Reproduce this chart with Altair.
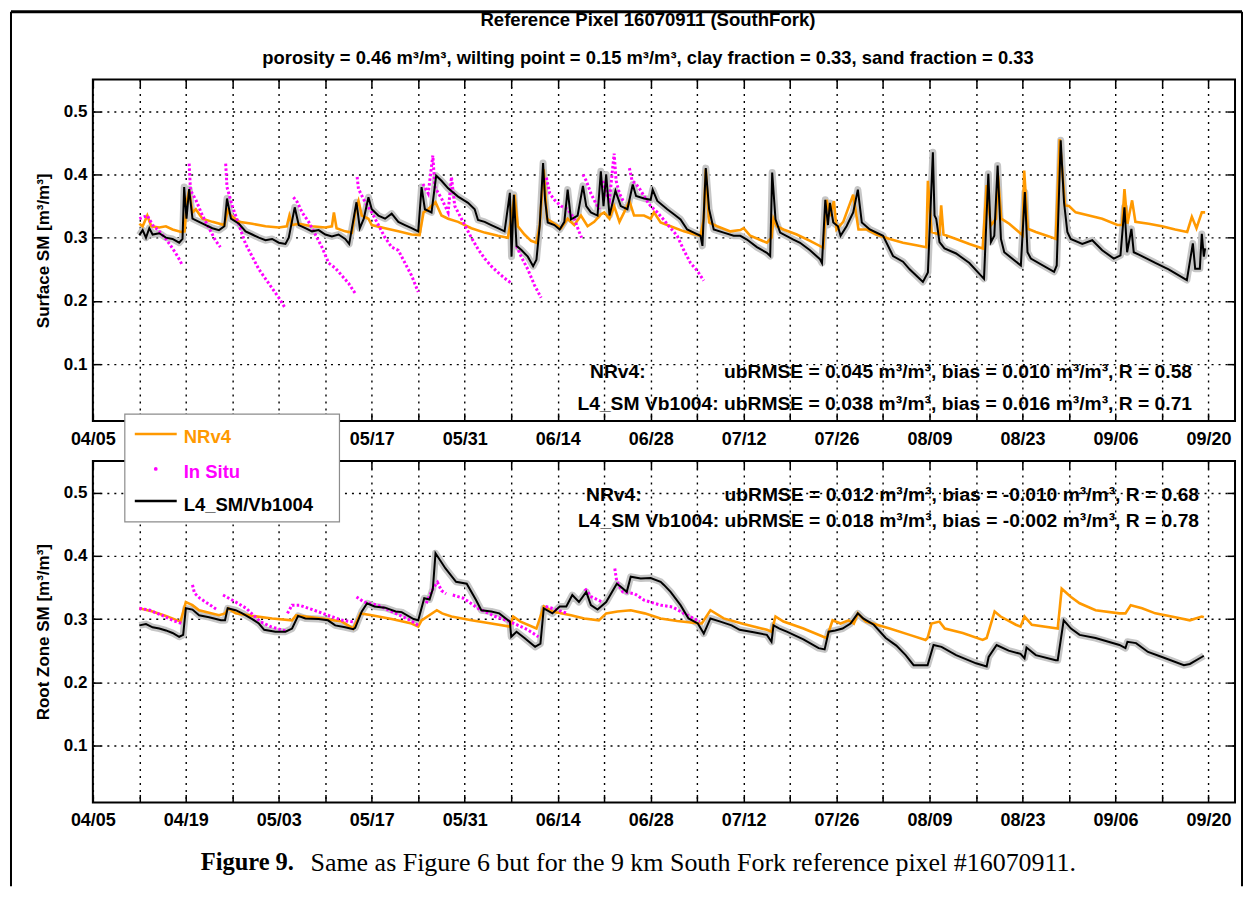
import altair as alt
import pandas as pd

# ---------------- data: day offset from 2015-04-05, soil moisture [m3/m3] ----------------
surf_nr = [[7,0.322],[7.5,0.318],[8.2,0.335],[8.8,0.318],[10,0.316],[11,0.318],[12,0.313],[13.3,0.309],[13.8,0.31],[14.2,0.36],[14.5,0.375],[15,0.34],[15.5,0.345],[16.5,0.33],[18,0.325],[19.8,0.32],[20.3,0.343],[20.8,0.335],[22,0.325],[24,0.322],[26,0.318],[28,0.316],[29.2,0.318],[29.6,0.335],[30,0.32],[31,0.322],[33,0.318],[35,0.316],[36,0.318],[36.3,0.34],[36.7,0.315],[38,0.31],[39,0.308],[39.6,0.345],[40,0.358],[40.5,0.335],[41.5,0.33],[42,0.32],[44,0.315],[46,0.31],[48,0.305],[49.2,0.304],[49.8,0.34],[50.5,0.345],[51.6,0.356],[52.5,0.335],[53.5,0.33],[55,0.325],[57,0.315],[59,0.308],[61,0.303],[62.5,0.3],[63,0.33],[63.5,0.368],[64,0.318],[65,0.305],[66,0.295],[66.8,0.292],[67.3,0.32],[67.9,0.408],[68.4,0.33],[69.5,0.322],[70.5,0.315],[71.5,0.33],[72.5,0.32],[73.5,0.335],[74.5,0.318],[75.5,0.325],[76.5,0.337],[77,0.34],[77.8,0.33],[78.5,0.35],[79.3,0.325],[80,0.34],[80.8,0.358],[81.5,0.335],[83,0.335],[84,0.33],[84.5,0.34],[85.5,0.324],[87,0.318],[89,0.31],[91.5,0.303],[92,0.33],[92.3,0.408],[92.8,0.324],[94,0.318],[96,0.31],[97.5,0.312],[98,0.315],[99,0.303],[101.5,0.292],[102.2,0.3],[102.5,0.33],[103,0.318],[104,0.313],[106,0.305],[108,0.295],[110,0.284],[110.5,0.36],[111,0.334],[111.6,0.358],[112,0.313],[113,0.325],[114.5,0.368],[115.3,0.313],[116.5,0.313],[118,0.305],[120,0.298],[122,0.292],[124,0.288],[125.5,0.285],[125.75,0.39],[126.3,0.309],[127.5,0.305],[127.75,0.351],[128.1,0.305],[130,0.298],[132,0.29],[134,0.283],[134.6,0.383],[135.2,0.319],[136,0.33],[136.3,0.398],[136.8,0.33],[138,0.322],[140,0.304],[140.25,0.406],[140.8,0.314],[142,0.309],[144,0.302],[145,0.298],[145.6,0.456],[146.4,0.351],[147,0.35],[148,0.34],[150,0.335],[152,0.33],[154.3,0.32],[155,0.32],[155.35,0.377],[155.8,0.322],[156.5,0.359],[157,0.325],[159,0.322],[161,0.318],[163,0.313],[164.8,0.309],[165.5,0.333],[166.2,0.315],[167,0.34],[167.5,0.34]]

surf_l4 = [[7,0.304],[7.5,0.312],[8,0.3],[8.5,0.315],[9,0.305],[10,0.307],[11,0.3],[12,0.298],[13,0.292],[13.5,0.298],[13.75,0.38],[14.1,0.33],[14.5,0.377],[15,0.33],[16,0.325],[17,0.32],[18,0.315],[19,0.312],[19.8,0.318],[20.2,0.362],[20.8,0.33],[22,0.322],[23,0.31],[24,0.305],[25,0.3],[26,0.296],[27,0.298],[28,0.292],[29,0.29],[29.5,0.3],[30.4,0.348],[31,0.32],[32,0.315],[33,0.31],[34,0.312],[35,0.305],[36,0.302],[37,0.305],[38,0.298],[38.6,0.29],[39.7,0.356],[40.2,0.315],[40.8,0.33],[41.5,0.364],[42,0.345],[43,0.335],[44,0.33],[45,0.338],[46,0.325],[47,0.32],[48,0.315],[49,0.31],[49.5,0.38],[50,0.345],[51,0.34],[51.7,0.398],[52.5,0.39],[53.5,0.378],[55,0.365],[56.5,0.355],[57.5,0.345],[58,0.328],[59,0.325],[60,0.32],[61,0.315],[62,0.31],[62.8,0.371],[63.05,0.27],[63.4,0.368],[63.8,0.287],[64.5,0.281],[65.5,0.27],[66.3,0.255],[66.8,0.265],[67.3,0.32],[67.8,0.418],[68.1,0.36],[68.5,0.324],[69.5,0.32],[70.3,0.313],[71,0.325],[71.5,0.376],[72,0.329],[73,0.335],[73.8,0.382],[74.3,0.35],[75,0.34],[76,0.335],[76.5,0.405],[76.9,0.35],[77.3,0.4],[77.8,0.335],[78.7,0.374],[79.5,0.35],[80.5,0.345],[81.3,0.384],[81.8,0.366],[83,0.362],[84,0.36],[84.3,0.376],[85,0.358],[86.5,0.345],[87.5,0.337],[88.5,0.329],[89.5,0.313],[90.5,0.308],[91.5,0.303],[91.8,0.287],[92.3,0.41],[92.8,0.345],[93.5,0.313],[95,0.308],[96.5,0.303],[97.5,0.303],[98.5,0.297],[100,0.285],[101.5,0.276],[102,0.271],[102.3,0.403],[102.8,0.329],[103.5,0.308],[105.5,0.297],[106.5,0.292],[108,0.28],[109.5,0.266],[109.8,0.26],[110.3,0.36],[110.7,0.32],[111,0.355],[111.5,0.324],[112.2,0.318],[112.6,0.303],[113.5,0.318],[114.5,0.34],[115.2,0.376],[115.8,0.324],[117,0.313],[119,0.303],[120.5,0.271],[122,0.262],[123,0.25],[124.5,0.235],[125,0.23],[125.75,0.245],[126.5,0.435],[126.75,0.335],[127,0.33],[127.5,0.293],[128.25,0.283],[130,0.275],[132,0.26],[133.75,0.24],[134.2,0.235],[134.85,0.401],[135.25,0.293],[135.75,0.303],[136.25,0.414],[136.75,0.298],[137.25,0.277],[139.75,0.256],[140.35,0.372],[140.75,0.277],[141.25,0.267],[144.75,0.246],[145.15,0.256],[145.75,0.454],[146.25,0.356],[146.75,0.309],[147.25,0.298],[149,0.29],[150.5,0.296],[152,0.28],[153.75,0.267],[154.75,0.272],[155.35,0.348],[155.75,0.277],[156.4,0.314],[156.75,0.277],[157.75,0.272],[160,0.26],[162,0.25],[164.75,0.233],[165.65,0.291],[166,0.251],[166.7,0.251],[167,0.306],[167.3,0.27],[167.5,0.283]]

surf_insitu = [
    [[7,8.2,9,10,11,12,12.8,13.5],[0.33,0.335,0.32,0.31,0.298,0.283,0.27,0.256]],
    [[14.5,14.7,15.5,16.5,17.5,18.5,19.2],[0.417,0.375,0.36,0.335,0.315,0.295,0.285]],
    [[20,20.2,21,22,23,24,25,26,27,28,29],[0.417,0.38,0.35,0.32,0.29,0.27,0.25,0.235,0.22,0.205,0.188]],
    [[30.2,30.8,31.5,32.5,33.5,34.5,35.5,36.5,37.5,38.5,39.5],[0.364,0.356,0.34,0.325,0.305,0.285,0.26,0.252,0.24,0.228,0.212]],
    [[39.8,40,41,42,43,44,45,46,47,48,49],[0.396,0.377,0.356,0.34,0.32,0.3,0.285,0.28,0.26,0.24,0.214]],
    [[49.7,50.5,51.2,51.5,52.5,53.5,54,54.5,55,56,57,58,59,60,61,62,63],[0.385,0.37,0.43,0.38,0.362,0.34,0.396,0.35,0.34,0.32,0.3,0.282,0.267,0.255,0.245,0.236,0.228]],
    [[63.8,64.5,65.5,66.5,67.5],[0.287,0.27,0.25,0.225,0.205]],
    [[68.3,68.8,69.5,70.5,71.5,72.5,73.2,73.6],[0.395,0.37,0.36,0.35,0.345,0.33,0.31,0.3]],
    [[73.8,74.3,75,75.7,76.3],[0.40,0.39,0.37,0.355,0.345]],
    [[76.8,77.3,77.8,78.5,78.8,79.3,80],[0.39,0.37,0.36,0.433,0.39,0.37,0.355]],
    [[80.8,81.2,81.8,82.5,83.3,84,85,86,87,88,89,90,91,92],[0.41,0.39,0.385,0.375,0.36,0.35,0.34,0.328,0.315,0.303,0.28,0.26,0.248,0.232]],
]

root_nr = [[7,0.317],[9,0.312],[11,0.305],[13.2,0.296],[14,0.327],[15,0.322],[16,0.314],[19,0.306],[19.9,0.309],[20.4,0.317],[21.5,0.309],[24,0.305],[27,0.301],[30,0.298],[30.6,0.306],[32,0.304],[35,0.3],[37.5,0.296],[39.2,0.285],[40.3,0.309],[42,0.306],[45,0.3],[48,0.293],[49,0.288],[49.5,0.298],[51.8,0.314],[52.6,0.309],[54,0.304],[57,0.298],[60,0.293],[62.8,0.288],[63.3,0.304],[64.4,0.296],[66.8,0.285],[67.9,0.32],[69.2,0.312],[72,0.306],[74,0.301],[76.2,0.298],[77.3,0.309],[79,0.312],[81,0.314],[83.1,0.309],[85.5,0.301],[88,0.297],[91.4,0.293],[91.7,0.293],[93,0.314],[95,0.301],[98,0.292],[101.5,0.283],[102.2,0.28],[102.8,0.304],[104,0.296],[107,0.285],[110,0.272],[110.5,0.27],[111.4,0.298],[112.6,0.293],[113.8,0.298],[114.6,0.293],[115.2,0.309],[116.4,0.296],[120,0.285],[123,0.275],[125.4,0.267],[125.7,0.27],[126.3,0.293],[127.5,0.296],[128.3,0.285],[131,0.278],[134,0.267],[134.6,0.27],[135.8,0.312],[136.7,0.304],[139,0.291],[139.7,0.288],[140.3,0.304],[141.4,0.291],[145.3,0.285],[145.9,0.348],[147.3,0.335],[148.6,0.325],[151,0.314],[154.6,0.309],[155.5,0.309],[156.3,0.322],[158,0.317],[160,0.309],[163,0.303],[165.2,0.298],[167,0.304],[167.3,0.303]]

root_l4 = [[7,0.29],[8,0.292],[9,0.287],[10,0.285],[11,0.282],[12,0.278],[13,0.272],[13.6,0.275],[14,0.317],[15,0.315],[16,0.306],[17.5,0.303],[19.3,0.298],[19.9,0.298],[20.3,0.317],[21.5,0.314],[22.5,0.309],[24,0.3],[25,0.293],[25.8,0.283],[27.5,0.28],[29,0.28],[30,0.285],[30.9,0.305],[32,0.301],[34,0.3],[35.4,0.298],[36.5,0.29],[38,0.287],[39.2,0.284],[39.5,0.286],[40.5,0.312],[41.3,0.325],[42.4,0.32],[44,0.318],[45.6,0.312],[46.5,0.311],[48.3,0.3],[49,0.298],[49.9,0.333],[50.7,0.331],[51.2,0.348],[51.6,0.404],[53.1,0.38],[54.7,0.359],[56.3,0.356],[57.7,0.33],[58.5,0.314],[60,0.312],[61.2,0.309],[62.8,0.296],[63,0.272],[63.8,0.28],[65,0.27],[66.6,0.256],[67.4,0.261],[67.9,0.317],[69.2,0.309],[70.3,0.32],[71.3,0.32],[72.2,0.338],[73.2,0.327],[74.3,0.343],[75,0.322],[76,0.315],[77.3,0.327],[78.9,0.356],[79.5,0.351],[80.4,0.343],[81,0.367],[82.5,0.364],[84,0.365],[85.5,0.359],[86,0.354],[87,0.343],[88.5,0.322],[89.7,0.301],[91.1,0.293],[92,0.277],[93,0.301],[94.5,0.296],[96.2,0.29],[97.4,0.283],[99.5,0.279],[101.5,0.275],[102.2,0.264],[102.5,0.29],[103.4,0.285],[104.5,0.28],[107,0.268],[109.3,0.254],[110.2,0.252],[110.8,0.28],[111.8,0.282],[112.9,0.285],[114.1,0.293],[115.2,0.309],[116,0.301],[117.6,0.291],[119.4,0.27],[121,0.258],[122.4,0.243],[123.6,0.227],[125.7,0.227],[126.6,0.259],[127.8,0.256],[130,0.243],[133,0.23],[134.6,0.225],[134.9,0.24],[136.1,0.259],[137.9,0.25],[139.7,0.245],[140.3,0.238],[140.6,0.255],[142,0.243],[145,0.235],[145.3,0.235],[146.2,0.298],[147.3,0.285],[148.6,0.275],[151,0.27],[154.6,0.259],[155.5,0.254],[155.8,0.264],[157.1,0.262],[158.9,0.248],[161,0.24],[164.3,0.227],[165.2,0.229],[167,0.24],[167.3,0.242]]

root_insitu = [
    [[7,8.6,10.8,12,13.4],[0.317,0.314,0.304,0.298,0.293]],
    [[15,15.3,16.1,17.7,18.8],[0.354,0.341,0.333,0.322,0.314]],
    [[19.6,21.5,23.1,25.2,26.8,29],[0.338,0.327,0.317,0.296,0.288,0.281]],
    [[29.3,30,31.1,33.3,35.4,37.6,39.5],[0.309,0.322,0.322,0.314,0.306,0.298,0.295]],
    [[39.7,40.8,42.9,45.6,47.8,49],[0.335,0.327,0.322,0.309,0.298,0.29]],
    [[50.2,51.3,51.9,52.5,53.2],[0.325,0.35,0.358,0.345,0.34]],
    [[54.2,55.8,58,60.6,62.8,65.5,67.1],[0.338,0.333,0.317,0.304,0.296,0.283,0.272]],
    [[68.2,69.8,71.4],[0.32,0.315,0.309]],
    [[74.1,75.1,76.7],[0.348,0.335,0.327]],
    [[78.6,78.9,79.8,81.6,83,85.5,87.3,89,91.4],[0.38,0.359,0.343,0.34,0.33,0.322,0.319,0.309,0.296]],
]

TICK_DAYS = list(range(0, 169, 7))
Y_TICKS = [0.1, 0.2, 0.3, 0.4, 0.5]

TITLE = "Reference Pixel 16070911 (SouthFork)"
SUBTITLE = "porosity = 0.46 m³/m³, wilting point = 0.15 m³/m³, clay fraction = 0.33, sand fraction = 0.33"
SURF_STATS = ["NRv4:", "ubRMSE = 0.045 m³/m³, bias = 0.010 m³/m³, R = 0.58",
              "L4_SM Vb1004: ubRMSE = 0.038 m³/m³, bias = 0.016 m³/m³, R = 0.71"]
ROOT_STATS = ["NRv4:", "ubRMSE = 0.012 m³/m³, bias = -0.010 m³/m³, R = 0.68",
              "L4_SM Vb1004: ubRMSE = 0.018 m³/m³, bias = -0.002 m³/m³, R = 0.78"]
LEGEND = ["NRv4", "In Situ", "L4_SM/Vb1004"]
CAPTION_BOLD = "Figure 9."
CAPTION = "Same as Figure 6 but for the 9 km South Fork reference pixel #16070911."

ORANGE = "#FF9900"
MAGENTA = "#FF00FF"
FONT = "Liberation Sans"
SERIF = "Liberation Serif"
W, H = 1144, 342


def line_df(pairs):
    return pd.DataFrame(pairs, columns=["d", "v"])


def insitu_df(segs):
    rows = []
    for i, (ds, vs) in enumerate(segs):
        for d, v in zip(ds, vs):
            rows.append({"d": d, "v": v, "seg": i})
    return pd.DataFrame(rows)


xscale = alt.Scale(domain=[0, 172], nice=False, zero=False)
yscale = alt.Scale(domain=[0.01, 0.55], nice=False, zero=False)
FMT = "timeFormat(datetime(2015, 3, 5 + datum.value), '%m/%d')"
LABELS_ALL = "datum.value % 14 == 0 ? " + FMT + " : ''"
# in the upper panel the legend box hides the 04/19 and 05/03 labels
LABELS_TOP = "(datum.value % 14 == 0 && datum.value != 14 && datum.value != 28) ? " + FMT + " : ''"

GRID = dict(grid=True, gridColor="black", gridDash=[2, 5], gridWidth=1.4, gridOpacity=1)
TICKS = dict(offset=-8, tickSize=8, tickWidth=1.5, tickColor="black", domain=False)


def x_main(label_expr):
    return alt.X("d:Q", scale=xscale, axis=alt.Axis(
        orient="bottom", values=TICK_DAYS, labelExpr=label_expr, labelFont=FONT,
        labelFontSize=18, labelFontWeight="bold", labelColor="black", labelPadding=9,
        labelFlush=False, labelOverlap=False, title=None, **TICKS, **GRID))


def y_main(title):
    return alt.Y("v:Q", scale=yscale, axis=alt.Axis(
        orient="left", values=Y_TICKS, format=".1f", labelFont=FONT, labelFontSize=17,
        labelFontWeight="bold", labelColor="black", labelPadding=6, title=title,
        titleFont=FONT, titleFontSize=17, titleFontWeight="bold", titleColor="black",
        titlePadding=11, **TICKS, **GRID))


def x_top():
    return alt.X("d:Q", scale=xscale, axis=alt.Axis(
        orient="top", values=TICK_DAYS, labels=False, grid=False, title=None, **TICKS))


def y_right():
    return alt.Y("v:Q", scale=yscale, axis=alt.Axis(
        orient="right", values=Y_TICKS, labels=False, grid=False, title=None, **TICKS))


def text(t, x, y, size=19.3, color="black", align="left", weight="bold", font=FONT):
    return alt.Chart(pd.DataFrame({"t": [t]})).mark_text(
        align=align, baseline="middle", font=font, fontSize=size, fontWeight=weight,
        color=color).encode(x=alt.value(x), y=alt.value(y), text="t:N")


def panel(nr, l4, ins, ytitle, label_expr, extras):
    nrdf, l4df, insdf = line_df(nr), line_df(l4), insitu_df(ins)
    band = alt.Chart(l4df).mark_line(color="#c6c6c6", strokeWidth=7, strokeJoin="round").encode(
        x=x_main(label_expr), y=y_main(ytitle))
    orange = alt.Chart(nrdf).mark_line(color=ORANGE, strokeWidth=2.6).encode(
        x=alt.X("d:Q", scale=xscale, axis=None), y=alt.Y("v:Q", scale=yscale, axis=None))
    situ = alt.Chart(insdf).mark_line(color=MAGENTA, strokeWidth=3, strokeDash=[2.5, 2.2]).encode(
        x=alt.X("d:Q", scale=xscale, axis=None), y=alt.Y("v:Q", scale=yscale, axis=None),
        detail="seg:N")
    black = alt.Chart(l4df).mark_line(color="black", strokeWidth=2).encode(
        x=x_top(), y=y_right())
    return alt.layer(band, orange, situ, black, *extras).resolve_axis(
        x="independent", y="independent").properties(width=W, height=H)


top_extras = [
    text(TITLE, 556, -60, size=18.6, align="center"),
    text(SUBTITLE, 556, -22, size=18.4, align="center"),
    text(SURF_STATS[0], 498, 293),
    text(SURF_STATS[1], 1101, 293, align="right"),
    text(SURF_STATS[2], 1101, 325, align="right"),
]

one = pd.DataFrame({"a": [0]})
legend_box = alt.Chart(one).mark_rect(fill="white", stroke="#8c8c8c", strokeWidth=1.2).encode(
    x=alt.value(32), x2=alt.value(247), y=alt.value(-47), y2=alt.value(61))
leg_orange = alt.Chart(one).mark_rule(color=ORANGE, strokeWidth=2.5).encode(
    x=alt.value(42), x2=alt.value(84), y=alt.value(-27))
leg_dot = alt.Chart(one).mark_circle(color=MAGENTA, opacity=1, size=14).encode(
    x=alt.value(63), y=alt.value(8))
leg_black = alt.Chart(one).mark_rule(color="black", strokeWidth=2.5).encode(
    x=alt.value(42), x2=alt.value(84), y=alt.value(40))
border_l = alt.Chart(one).mark_rule(color="black", strokeWidth=2).encode(
    x=alt.value(-82), y=alt.value(-450), y2=alt.value(426))
border_t = alt.Chart(one).mark_rule(color="black", strokeWidth=3).encode(
    x=alt.value(-82), x2=alt.value(1151), y=alt.value(-450))
border_r = alt.Chart(one).mark_rule(color="black", strokeWidth=2).encode(
    x=alt.value(1151), y=alt.value(-450), y2=alt.value(426))

root_extras = [
    text(ROOT_STATS[0], 494, 34),
    text(ROOT_STATS[1], 1108, 34, align="right"),
    text(ROOT_STATS[2], 1108, 60, align="right"),
    legend_box, leg_orange, leg_dot, leg_black,
    text(LEGEND[0], 91, -24, size=18.5, color=ORANGE),
    text(LEGEND[1], 91, 11, size=18.5, color=MAGENTA),
    text(LEGEND[2], 91, 44, size=18.5),
    text(CAPTION_BOLD, 108, 403, size=24.5, font=SERIF),
    text(CAPTION, 218, 403, size=26, font=SERIF, weight="normal"),
    border_l, border_t, border_r,
]

top = panel(surf_nr, surf_l4, surf_insitu, "Surface SM [m³/m³]", LABELS_TOP, top_extras)
bottom = panel(root_nr, root_l4, root_insitu, "Root Zone SM [m³/m³]", LABELS_ALL, root_extras)

chart = alt.vconcat(top, bottom, spacing=40, bounds="flush").properties(
    padding=0, background="white"
).configure_view(stroke="black", strokeWidth=2)

chart.save("out.html", embed_options={"renderer": "svg", "actions": False})
